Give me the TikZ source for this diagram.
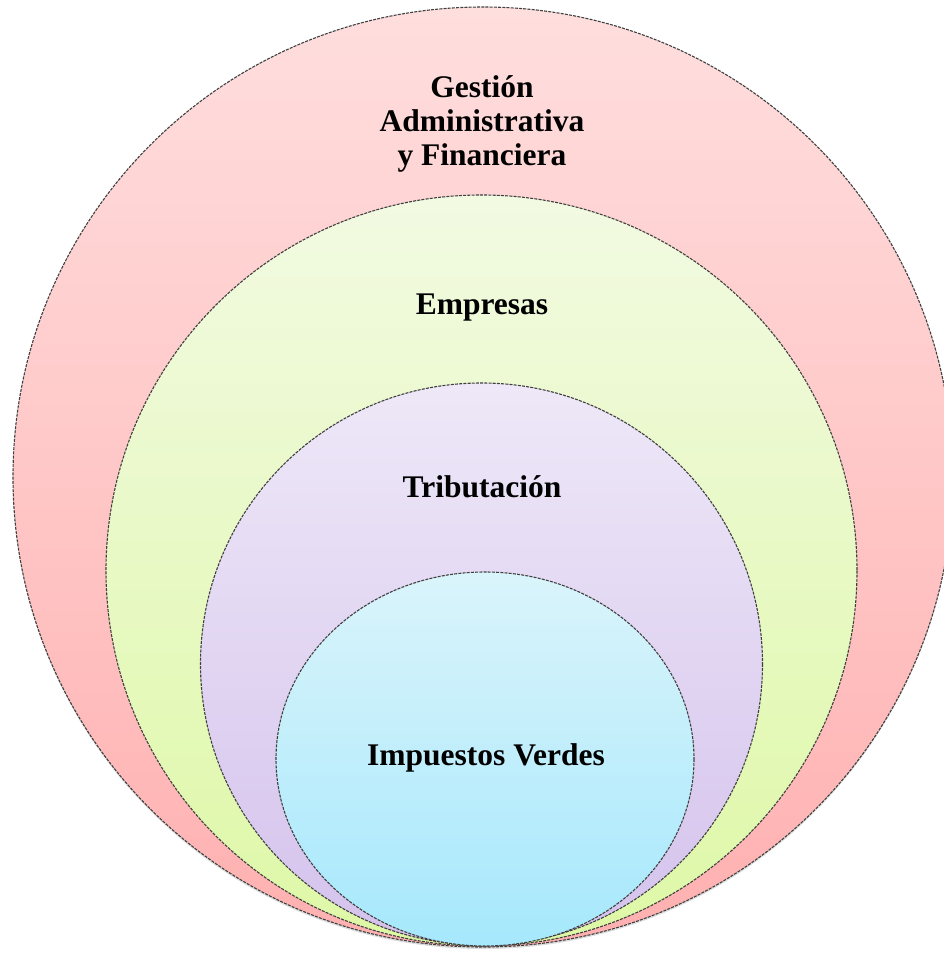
\documentclass[tikz,border=0pt]{standalone}
\usepackage{fontspec}
\setmainfont{Liberation Serif}
\begin{document}
\begin{tikzpicture}[x=1pt,y=-1pt,
  ring/.style={draw=black!75, line width=1.1pt, dash pattern=on 3pt off 1.2pt},
  lbl/.style={font=\fontsize{31.5}{34}\selectfont\bfseries, align=center, inner sep=0pt}]
\useasboundingbox (0,0) rectangle (944,953);
\clip (0,0) rectangle (944,953);
\fill[white] (0,0) rectangle (944,953);
% soft shadow at the bottom
\fill[black!25, opacity=0.5] (483,479) circle (470);
% outer ring
\shade[top color={rgb,255:red,255;green,222;blue,222}, bottom color={rgb,255:red,255;green,176;blue,176}] (483,477) circle (470);
\draw[ring] (483,477) circle (470);
% green ring
\shade[top color={rgb,255:red,242;green,250;blue,226}, bottom color={rgb,255:red,222;green,248;blue,166}] (481.5,570.5) circle (375.5);
\draw[ring] (481.5,570.5) circle (375.5);
% purple ring
\shade[top color={rgb,255:red,238;green,232;blue,248}, bottom color={rgb,255:red,212;green,194;blue,236}] (481.5,664) circle (281);
\draw[ring] (481.5,664) circle (281);
% blue ring
\shade[top color={rgb,255:red,218;green,244;blue,251}, bottom color={rgb,255:red,166;green,232;blue,252}] (485,759) ellipse (209 and 187);
\draw[ring] (485,759) ellipse (209 and 187);
% labels
\node[lbl] (gestion) at (482,124) {Gestión\\Administrativa\\y Financiera};
\node[lbl] (empresas) at (482,308) {Empresas};
\node[lbl] (tributacion) at (482,487) {Tributación};
\node[lbl] (impuestos) at (486,758) {Impuestos Verdes};
\end{tikzpicture}
\end{document}
